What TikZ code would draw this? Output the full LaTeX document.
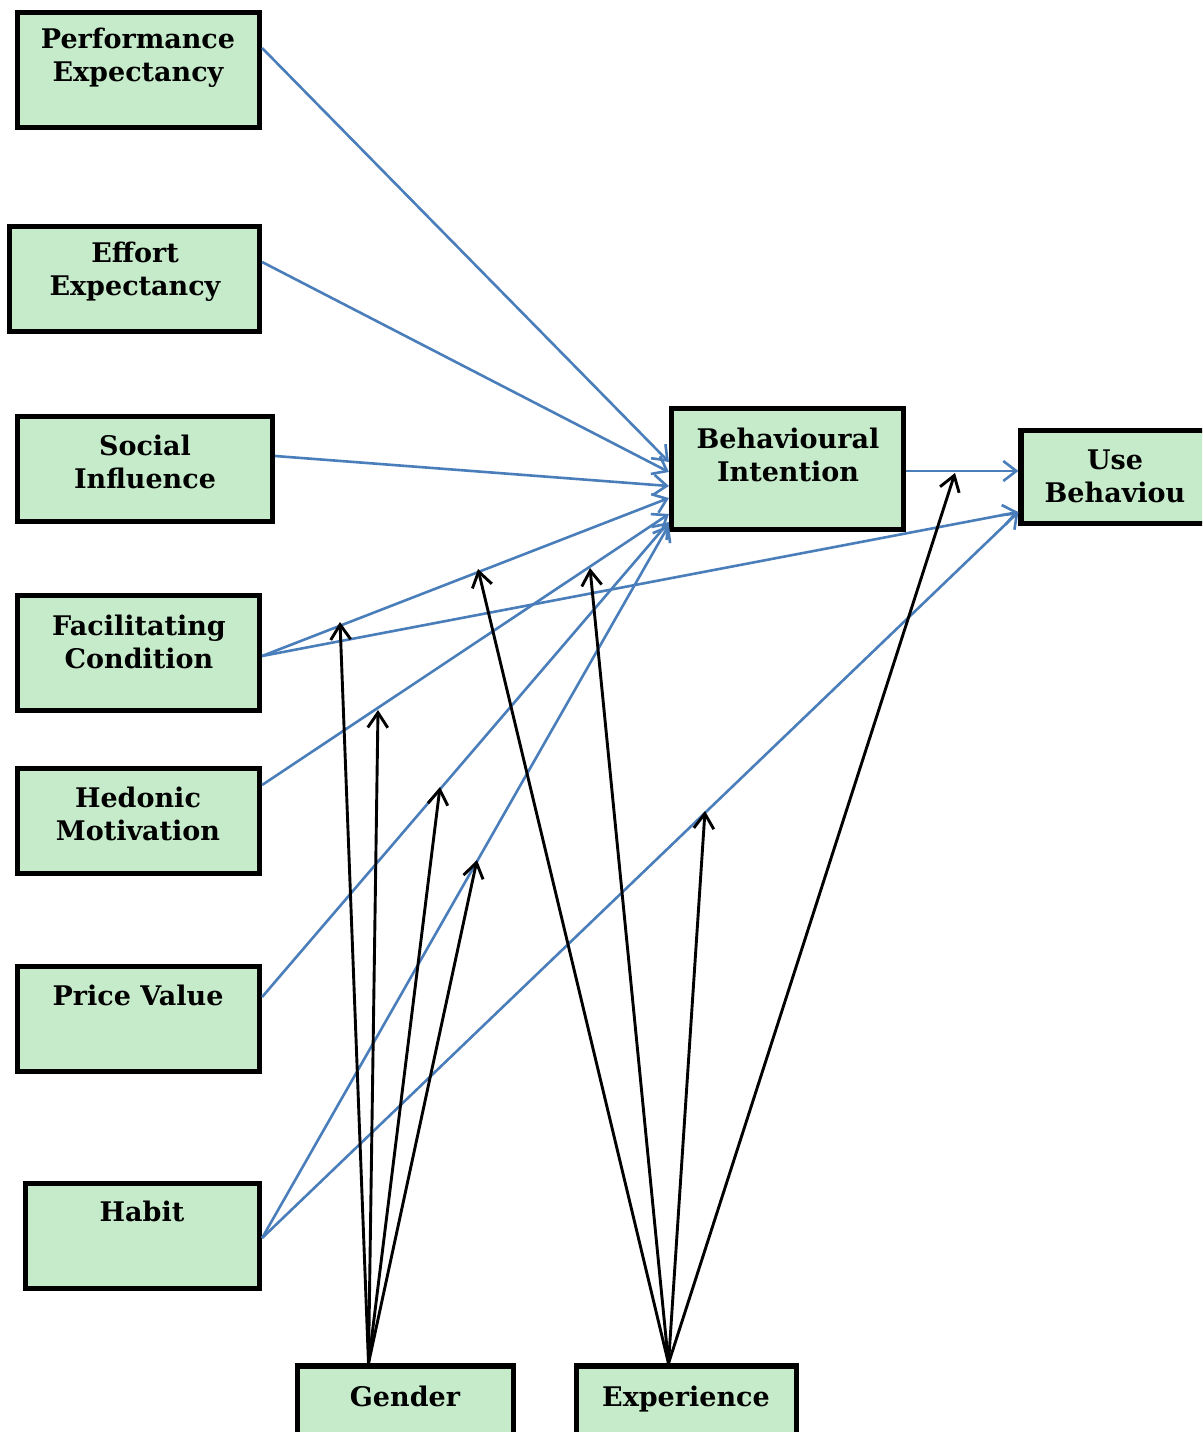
\documentclass[tikz,border=0pt]{standalone}
\usepackage{fontspec}
\setmainfont{DejaVu Serif}
\usetikzlibrary{arrows.meta,calc}
\definecolor{boxfill}{HTML}{C6EBCA}
\definecolor{lineblue}{HTML}{4A7EBB}
\begin{document}
\begin{tikzpicture}[x=1pt,y=-1pt,
 box/.style={draw=black,line width=5.2pt,fill=boxfill,inner sep=0pt},
 lbl/.style={font=\bfseries\fontsize{27}{33}\selectfont,align=center,inner sep=0pt},
 barrow/.style={draw=lineblue,line width=2.6pt,-{Straight Barb[length=13pt,width=20pt]}},
 karrow/.style={draw=black,line width=2.9pt,-{Straight Barb[length=15pt,width=20pt]}}]
\clip (0,0) rectangle (1202,1432);
\fill[white] (0,0) rectangle (1202,1432);
% boxes
\node[box,minimum width=242pt,minimum height=115pt] (PE) at (138.5,70) {};
\node[box,minimum width=250pt,minimum height=105pt] (EE) at (134.5,279) {};
\node[box,minimum width=255pt,minimum height=105pt] (SI) at (145,469) {};
\node[box,minimum width=242pt,minimum height=115pt] (FC) at (138.5,653) {};
\node[box,minimum width=242pt,minimum height=105pt] (HM) at (138.5,821) {};
\node[box,minimum width=242pt,minimum height=105pt] (PV) at (138.5,1019) {};
\node[box,minimum width=234pt,minimum height=105pt] (HB) at (142.5,1236) {};
\node[box,minimum width=232pt,minimum height=121pt] (BI) at (787.5,469) {};
\node[box,minimum width=192pt,minimum height=93pt] (UB) at (1117,477) {};
\node[box,minimum width=216pt,minimum height=92pt] (GE) at (405.5,1412) {};
\node[box,minimum width=220pt,minimum height=92pt] (EX) at (686.5,1412) {};
% labels
\node[lbl] (PEt) at (138,58) {Performance\\Expectancy};
\node[lbl] (EEt) at (135,272) {Effort\\Expectancy};
\node[lbl] (SIt) at (145,462) {Social\\Influence};
\node[lbl] (FCt) at (139,642) {Facilitating\\Condition};
\node[lbl] (HMt) at (138,814) {Hedonic\\Motivation};
\node[lbl,anchor=base] (PVt) at (138,1005) {Price Value};
\node[lbl,anchor=base] (HBt) at (142,1221) {Habit};
\node[lbl] (BIt) at (788,455) {Behavioural\\Intention};
\node[lbl] (UBt) at (1115,476) {Use\\Behaviou};
\node[lbl,anchor=base] (GEt) at (405,1406) {Gender};
\node[lbl,anchor=base] (EXt) at (686,1406) {Experience};
% moderator targets
\coordinate (g1) at (340,622);
\coordinate (g2) at (378,710);
\coordinate (g3) at (440,787);
\coordinate (g4) at (477,860);
\coordinate (e1) at (478,569);
\coordinate (e2) at (590,568);
\coordinate (e3) at (705,811);
\coordinate (e4) at (955,473);
% blue paths
\draw[barrow] ($(PE.east)+(0,-22)$) -- ($(BI.west)+(0,-7)$);
\draw[barrow] ($(EE.east)+(0,-17)$) -- ($(BI.west)+(0,3)$);
\draw[barrow] ($(SI.east)+(0,-13)$) -- ($(BI.west)+(0,17)$);
\draw[barrow] ($(FC.east)+(0,3)$) -- ($(BI.west)+(0,29)$);
\draw[barrow] ($(FC.east)+(0,3)$) -- ($(UB.west)+(0,35)$);
\draw[barrow] ($(HM.east)+(0,-36)$) -- ($(BI.west)+(0,45)$);
\draw[barrow] ($(PV.east)+(0,-22)$) -- ($(BI.west)+(0,53)$);
\draw[barrow] ($(HB.east)+(0,2)$) -- ($(BI.west)+(0,56)$);
\draw[barrow] ($(HB.east)+(0,2)$) -- ($(UB.west)+(0,35)$);
\draw[barrow] ($(BI.east)+(0,2)$) -- ($(UB.west)+(0,-6)$);
% black moderator arrows
\draw[karrow] ($(GE.north)+(-37,0)$) -- (g1);
\draw[karrow] ($(GE.north)+(-37,0)$) -- (g2);
\draw[karrow] ($(GE.north)+(-37,0)$) -- (g3);
\draw[karrow] ($(GE.north)+(-37,0)$) -- (g4);
\draw[karrow] ($(EX.north)+(-18,0)$) -- (e1);
\draw[karrow] ($(EX.north)+(-18,0)$) -- (e2);
\draw[karrow] ($(EX.north)+(-18,0)$) -- (e3);
\draw[karrow] ($(EX.north)+(-18,0)$) -- (e4);
\end{tikzpicture}
\end{document}
